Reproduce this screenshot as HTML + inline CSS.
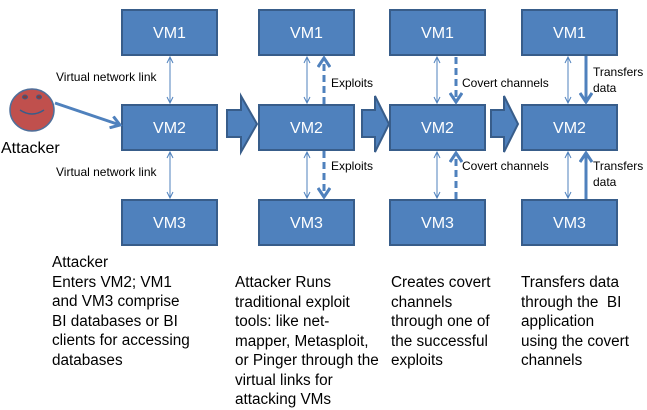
<!DOCTYPE html>
<html><head><meta charset="utf-8"><style>
body{margin:0;background:#fff;width:647px;height:401px;overflow:hidden}
svg{position:absolute;left:0;top:0}
.t{position:absolute;font-family:"Liberation Sans",sans-serif;font-size:15.3px;line-height:19.5px;color:#000;white-space:nowrap}
</style></head><body>
<svg width="647" height="401" viewBox="0 0 647 401" font-family="Liberation Sans, sans-serif">
<defs>
<marker id="ta" markerWidth="8" markerHeight="8" refX="7" refY="4" orient="auto-start-reverse" markerUnits="userSpaceOnUse"><path d="M1,1 L7,4 L1,7" fill="none" stroke="#4f81bd" stroke-width="1"/></marker>
<marker id="ba" markerWidth="14" markerHeight="14" refX="11" refY="7" orient="auto" markerUnits="userSpaceOnUse"><path d="M2,1 L11,7 L2,13" fill="none" stroke="#4f81bd" stroke-width="3"/></marker>
</defs>
<g fill="#4f81bd" stroke="#385d8a" stroke-width="2">
<rect x="122" y="10" width="95" height="45"/><rect x="122" y="105" width="95" height="45"/><rect x="122" y="200" width="95" height="45"/>
<rect x="259" y="10" width="95" height="45"/><rect x="259" y="105" width="95" height="45"/><rect x="259" y="200" width="95" height="45"/>
<rect x="390" y="10" width="95" height="45"/><rect x="390" y="105" width="95" height="45"/><rect x="390" y="200" width="95" height="45"/>
<rect x="522" y="10" width="95" height="45"/><rect x="522" y="105" width="95" height="45"/><rect x="522" y="200" width="95" height="45"/>
<path d="M227,110 H241 V96 L257,124 L241,152 V137 H227 Z"/>
<path d="M362,110 H375 V96 L389,124 L375,152 V137 H362 Z"/>
<path d="M491,110 H504 V96 L518,124 L504,152 V137 H491 Z"/>
</g>
<g fill="#fff" font-size="16" text-anchor="middle">
<text x="169.5" y="38">VM1</text><text x="169.5" y="133">VM2</text><text x="169.5" y="228">VM3</text>
<text x="306.5" y="38">VM1</text><text x="306.5" y="133">VM2</text><text x="306.5" y="228">VM3</text>
<text x="437.5" y="38">VM1</text><text x="437.5" y="133">VM2</text><text x="437.5" y="228">VM3</text>
<text x="569.5" y="38">VM1</text><text x="569.5" y="133">VM2</text><text x="569.5" y="228">VM3</text>
</g>
<g stroke="#4f81bd" stroke-width="1" fill="none">
<line x1="170" y1="57" x2="170" y2="103" marker-start="url(#ta)" marker-end="url(#ta)"/>
<line x1="170" y1="152" x2="170" y2="198" marker-start="url(#ta)" marker-end="url(#ta)"/>
<line x1="307" y1="57" x2="307" y2="103" marker-start="url(#ta)" marker-end="url(#ta)"/>
<line x1="307" y1="152" x2="307" y2="198" marker-start="url(#ta)" marker-end="url(#ta)"/>
<line x1="437" y1="57" x2="437" y2="103" marker-start="url(#ta)" marker-end="url(#ta)"/>
<line x1="437" y1="152" x2="437" y2="198" marker-start="url(#ta)" marker-end="url(#ta)"/>
<line x1="568" y1="57" x2="568" y2="103" marker-start="url(#ta)" marker-end="url(#ta)"/>
<line x1="568" y1="152" x2="568" y2="198" marker-start="url(#ta)" marker-end="url(#ta)"/>
</g>
<g stroke="#4f81bd" stroke-width="3" fill="none">
<line x1="324" y1="104" x2="324" y2="58" stroke-dasharray="7,4" marker-end="url(#ba)"/>
<line x1="324" y1="151" x2="324" y2="197" stroke-dasharray="7,4" marker-end="url(#ba)"/>
<line x1="456" y1="57" x2="456" y2="102" stroke-dasharray="7,4" marker-end="url(#ba)"/>
<line x1="456" y1="199" x2="456" y2="153" stroke-dasharray="7,4" marker-end="url(#ba)"/>
<line x1="586" y1="56" x2="586" y2="102" marker-end="url(#ba)"/>
<line x1="586" y1="199" x2="586" y2="153" marker-end="url(#ba)"/>
<line x1="55" y1="103" x2="120" y2="125" marker-end="url(#ba)"/>
</g>
<ellipse cx="32" cy="110" rx="22" ry="21" fill="#c0504d" stroke="#4f6f9a" stroke-width="1.5"/>
<ellipse cx="25" cy="97" rx="2.5" ry="2" fill="#8c3836" stroke="#385d8a" stroke-width="1"/>
<ellipse cx="39" cy="97" rx="2.5" ry="2" fill="#8c3836" stroke="#385d8a" stroke-width="1"/>
<path d="M20,110 Q32,118 44,110" fill="none" stroke="#385d8a" stroke-width="1.5"/>
<g font-size="12" fill="#000">
<text x="56" y="81">Virtual network link</text>
<text x="56" y="176">Virtual network link</text>
<text x="331" y="87">Exploits</text>
<text x="331" y="170">Exploits</text>
<text x="462" y="87">Covert channels</text>
<text x="462" y="170">Covert channels</text>
<text x="593" y="76">Transfers</text><text x="593" y="92">data</text>
<text x="593" y="170">Transfers</text><text x="593" y="186">data</text>
</g>
<text x="1" y="153" font-size="16" fill="#000">Attacker</text>
</svg>
<div class="t" style="left:52px;top:253px">Attacker<br>Enters VM2; VM1<br>and VM3 comprise<br>BI databases or BI<br>clients for accessing<br>databases</div>
<div class="t" style="left:235px;top:273px">Attacker Runs<br>traditional exploit<br>tools: like net-<br>mapper, Metasploit,<br>or Pinger through the<br>virtual links for<br>attacking VMs</div>
<div class="t" style="left:391px;top:273px">Creates covert<br>channels<br>through one of<br>the successful<br>exploits</div>
<div class="t" style="left:521px;top:273px">Transfers data<br>through the &nbsp;BI<br>application<br>using the covert<br>channels</div>
</body></html>
